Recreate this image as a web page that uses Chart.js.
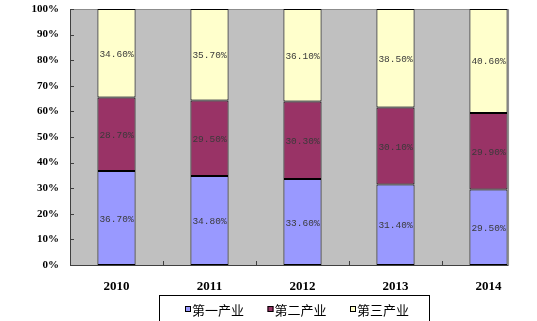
<!DOCTYPE html>
<html>
<head>
<meta charset="utf-8">
<script src="https://cdn.jsdelivr.net/npm/chart.js@4/dist/chart.umd.min.js"></script>
<style>
html,body{margin:0;padding:0;background:#fff;}
#wrap{width:537px;height:321px;position:relative;}
</style>
</head>
<body>
<div id="wrap"><canvas id="c" width="537" height="321"></canvas></div>
<script>
const categories = ['2010', '2011', '2012', '2013', '2014'];
const seriesNames = ['第一产业', '第二产业', '第三产业'];
const primary = [36.7, 34.8, 33.6, 31.4, 29.5];
const secondary = [28.7, 29.5, 30.3, 30.1, 29.9];
const tertiary = [34.6, 35.7, 36.1, 38.5, 40.6];
const yTicks = [0, 10, 20, 30, 40, 50, 60, 70, 80, 90, 100];

const colors = ['#9999FF', '#993366', '#FFFFCC'];

const bgPlugin = {
  id: 'bgPlugin',
  beforeDraw(chart) {
    const {ctx, chartArea: a} = chart;
    const meta = chart.getDatasetMeta(0);
    const last = meta.data[meta.data.length - 1];
    const right = last.x + last.width / 2 + 1;
    ctx.save();
    ctx.fillStyle = '#C0C0C0';
    ctx.fillRect(a.left, a.top, right - a.left, a.bottom - a.top);
    ctx.strokeStyle = '#8c8c8c';
    ctx.lineWidth = 1;
    ctx.beginPath();
    ctx.moveTo(a.left, a.top + 0.5);
    ctx.lineTo(right, a.top + 0.5);
    ctx.lineTo(right, a.bottom);
    ctx.stroke();
    ctx.restore();
  },
  afterDatasetsDraw(chart) {
    const {ctx, chartArea: a} = chart;
    const ys = chart.scales.y, xs = chart.scales.x;
    const meta = chart.getDatasetMeta(0);
    const last = meta.data[meta.data.length - 1];
    const right = last.x + last.width / 2 + 1;
    ctx.save();
    ctx.strokeStyle = '#404040';
    ctx.lineWidth = 1;
    ctx.beginPath();
    ctx.moveTo(a.left + 0.5, a.top);
    ctx.lineTo(a.left + 0.5, a.bottom + 0.5);
    ctx.lineTo(right, a.bottom + 0.5);
    ctx.stroke();
    ctx.beginPath();
    yTicks.forEach(v => {
      const y = Math.round(ys.getPixelForValue(v)) + 0.5;
      ctx.moveTo(a.left, y);
      ctx.lineTo(a.left + 4, y);
    });
    for (let i = 1; i < categories.length; i++) {
      const x = Math.round((xs.getPixelForValue(i - 1) + xs.getPixelForValue(i)) / 2) + 0.5;
      ctx.moveTo(x, a.bottom);
      ctx.lineTo(x, a.bottom - 4);
    }
    ctx.stroke();
    ctx.font = '9.5px "Liberation Mono", "DejaVu Sans Mono", monospace';
    ctx.fillStyle = '#3a3a3a';
    ctx.textAlign = 'center';
    ctx.textBaseline = 'middle';
    chart.data.datasets.forEach((ds, di) => {
      const m = chart.getDatasetMeta(di);
      m.data.forEach((bar, i) => {
        const yc = (bar.y + bar.base) / 2;
        ctx.fillText(ds.data[i].toFixed(2) + '%', bar.x, yc + 1);
      });
    });
    ctx.restore();
  },
  afterDraw(chart) {
    const {ctx} = chart;
    ctx.save();
    ctx.strokeStyle = '#000';
    ctx.lineWidth = 1;
    ctx.strokeRect(159.5, 295.5, 270, 40);
    ctx.font = '13px "Noto Sans CJK SC", sans-serif';
    ctx.textBaseline = 'middle';
    ctx.textAlign = 'left';
    chart.data.datasets.forEach((ds, i) => {
      const x = 185 + i * 82.5;
      ctx.fillStyle = ds.backgroundColor;
      ctx.fillRect(x, 306, 6, 6);
      ctx.strokeStyle = '#000';
      ctx.strokeRect(x + 0.5, 306.5, 5, 5);
      ctx.fillStyle = '#000';
      ctx.fillText(ds.label, x + 7, 310);
    });
    ctx.restore();
  }
};

new Chart(document.getElementById('c'), {
  type: 'bar',
  data: {
    labels: categories,
    datasets: [
      {label: seriesNames[0], data: primary, backgroundColor: colors[0]},
      {label: seriesNames[1], data: secondary, backgroundColor: colors[1]},
      {label: seriesNames[2], data: tertiary, backgroundColor: colors[2]}
    ].map(d => Object.assign(d, {borderColor: '#000', borderWidth: 1, borderSkipped: false, categoryPercentage: 1, barPercentage: 0.41}))
  },
  options: {
    responsive: false,
    animation: false,
    devicePixelRatio: 1,
    layout: {padding: {top: 9, right: 2, left: 0, bottom: 0}},
    plugins: {legend: {display: false}, tooltip: {enabled: false}},
    scales: {
      x: {
        stacked: true,
        grid: {display: false, drawTicks: false},
        border: {display: false},
        ticks: {color: '#000', padding: 14, font: {family: '"Liberation Serif", serif', weight: 'bold', size: 13}},
        afterFit(s) { s.height = 56; s.paddingLeft = 0; s.paddingRight = 0; }
      },
      y: {
        stacked: true,
        min: 0, max: 100,
        afterBuildTicks(s) { s.ticks = yTicks.map(v => ({value: v})); },
        grid: {display: false, drawTicks: false},
        border: {display: false},
        ticks: {color: '#000', padding: 11, callback: v => v + '%', font: {family: '"Liberation Serif", serif', weight: 'bold', size: 11}},
        afterFit(s) { s.width = 70; s.paddingTop = 0; s.paddingBottom = 0; }
      }
    }
  },
  plugins: [bgPlugin]
});
</script>
</body>
</html>
